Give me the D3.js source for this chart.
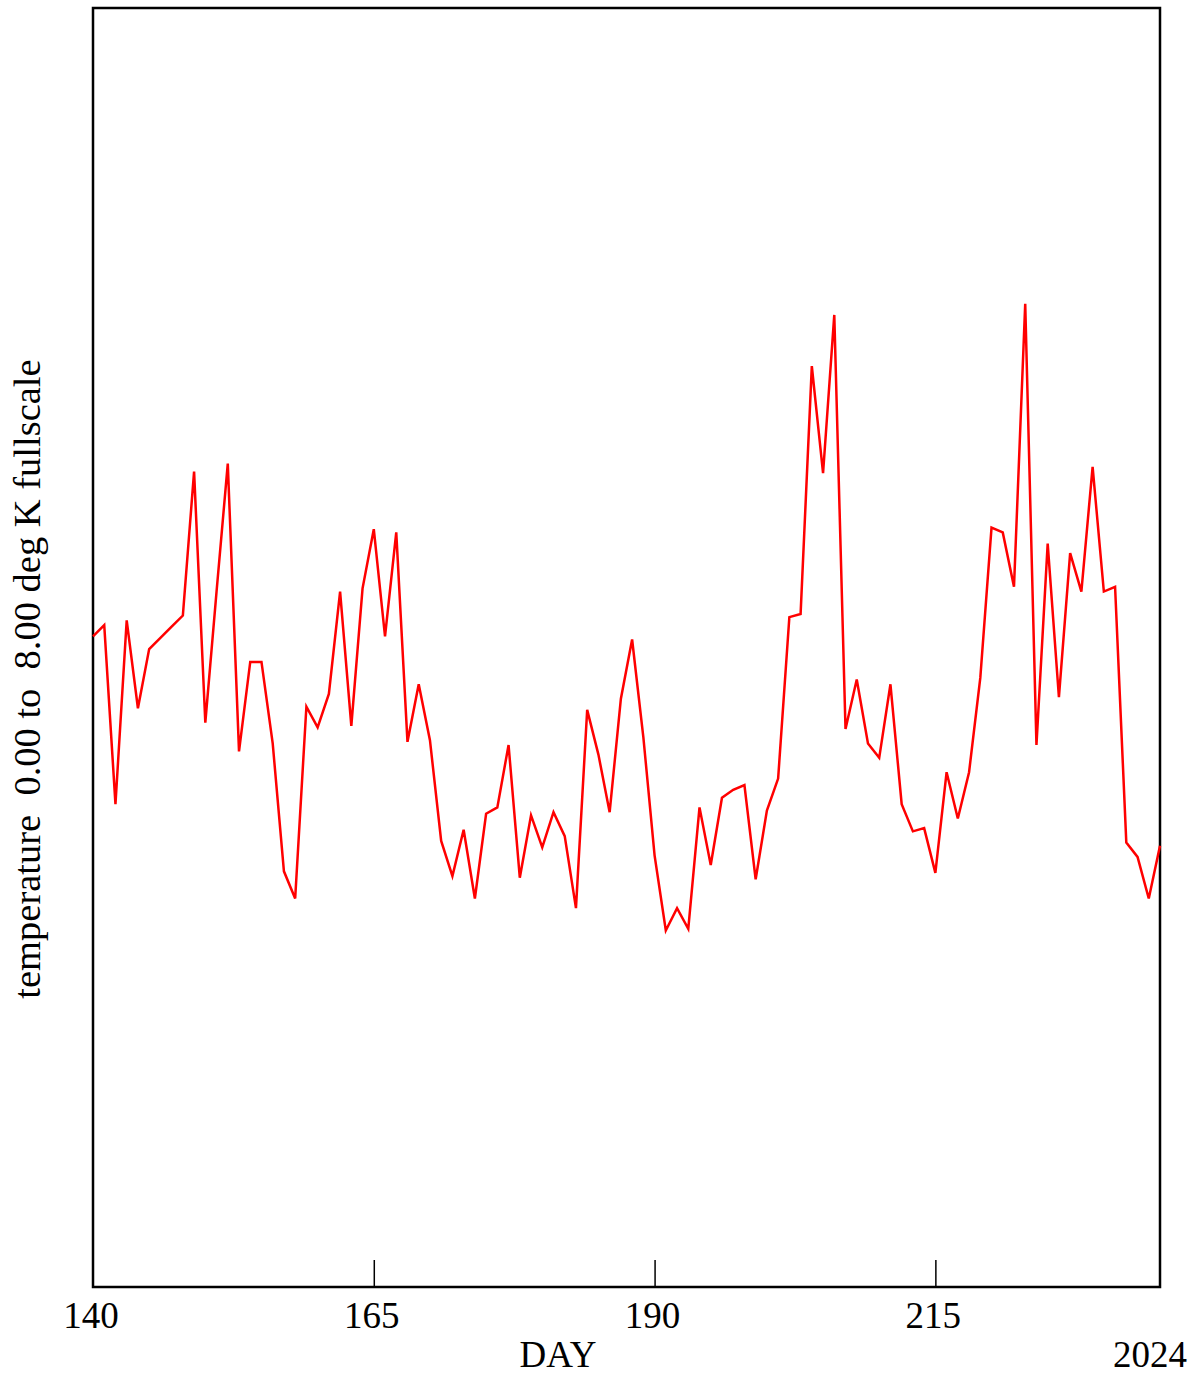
<!DOCTYPE html>
<html>
<head>
<meta charset="utf-8">
<script src="https://cdn.jsdelivr.net/npm/d3@7"></script>
<style>
  html, body { margin: 0; padding: 0; background: #fff; }
  svg text { font-family: "Liberation Serif", "Times New Roman", serif; fill: #000; }
</style>
</head>
<body>
<svg id="chart" width="1198" height="1378"></svg>
<script>
// Daily temperature readings, day 140 through day 235
const days = d3.range(140, 236);
const temperature = [
  4.07, 4.14, 3.02, 4.17, 3.62, 3.99, 4.06, 4.13, 4.20, 5.10,
  3.53, 4.35, 5.15, 3.35, 3.91, 3.91, 3.40, 2.60, 2.43, 3.63,
  3.50, 3.71, 4.35, 3.51, 4.37, 4.74, 4.07, 4.72, 3.41, 3.77,
  3.42, 2.79, 2.57, 2.86, 2.43, 2.96, 3.00, 3.39, 2.56, 2.95,
  2.75, 2.97, 2.82, 2.37, 3.61, 3.33, 2.97, 3.68, 4.05, 3.44,
  2.70, 2.23, 2.37, 2.24, 3.00, 2.64, 3.06, 3.11, 3.14, 2.55,
  2.98, 3.18, 4.19, 4.21, 5.76, 5.09, 6.08, 3.49, 3.80, 3.40,
  3.31, 3.77, 3.02, 2.85, 2.87, 2.59, 3.22, 2.93, 3.22, 3.81,
  4.75, 4.72, 4.38, 6.15, 3.39, 4.65, 3.69, 4.59, 4.35, 5.13,
  4.35, 4.38, 2.78, 2.69, 2.43, 2.76
];
const xTicks = [165, 190, 215];
const xTickLabels = ["140", "165", "190", "215"];
const yearLabel = "2024";
const xTitle = "DAY";
const yTitle = "temperature\u00a0\u00a00.00 to\u00a0\u00a08.00 deg K fullscale";

const svg = d3.select("#chart");
const plotLeft = 93, plotRight = 1160, plotTop = 8, plotBottom = 1287;

const x = d3.scaleLinear().domain([140, 235]).range([plotLeft, plotRight]);
const y = d3.scaleLinear().domain([0, 8]).range([plotBottom, plotTop]);

// Frame
svg.append("rect")
  .attr("x", plotLeft).attr("y", plotTop)
  .attr("width", plotRight - plotLeft).attr("height", plotBottom - plotTop)
  .attr("fill", "none").attr("stroke", "#000").attr("stroke-width", 2.5);

// Bottom axis with inward ticks
const axis = svg.append("g")
  .attr("transform", `translate(0,${plotBottom})`)
  .call(d3.axisTop(x).tickValues(xTicks).tickSize(27).tickFormat(""));
axis.select(".domain").remove();
axis.selectAll("line").attr("stroke", "#000").attr("stroke-width", 1.5);

// Tick labels
const labelDays = xTickLabels.map(Number);
svg.append("g").selectAll("text")
  .data(labelDays)
  .join("text")
  .attr("x", d => x(d) - 2)
  .attr("y", 1328)
  .attr("text-anchor", "middle")
  .attr("font-size", 37)
  .text((d, i) => xTickLabels[i]);

// Axis titles
svg.append("text")
  .attr("x", 558).attr("y", 1367)
  .attr("text-anchor", "middle")
  .attr("font-size", 37)
  .text(xTitle);

svg.append("text")
  .attr("x", 1150).attr("y", 1367)
  .attr("text-anchor", "middle")
  .attr("font-size", 37)
  .text(yearLabel);

svg.append("text")
  .attr("transform", "translate(40,679) rotate(-90)")
  .attr("text-anchor", "middle")
  .attr("font-size", 38.5)
  .text(yTitle);

// Temperature trace
const line = d3.line()
  .x((d, i) => x(days[i]))
  .y(d => y(d));

svg.append("path")
  .datum(temperature)
  .attr("d", line)
  .attr("fill", "none")
  .attr("stroke", "#ff0000")
  .attr("stroke-width", 2.5)
  .attr("stroke-linejoin", "miter");
</script>
</body>
</html>
